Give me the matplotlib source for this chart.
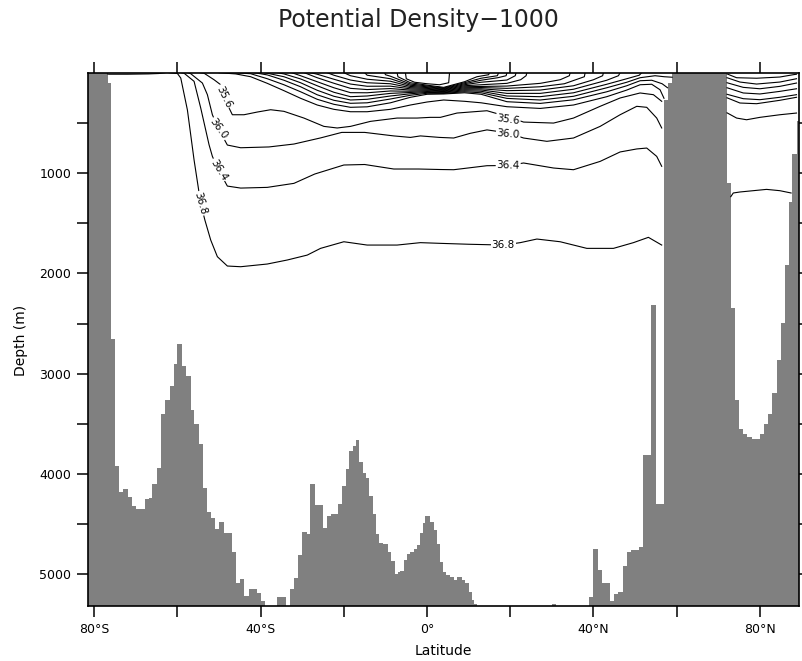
import matplotlib
matplotlib.use("Agg")
import matplotlib.pyplot as plt

# bottom topography: cell edges (deg lat) and bottom depth (m) of each cell
topo_edges = [-81.5, -76.8, -76.0, -75.0, -74.0, -73.0, -71.9, -70.9, -69.9, -67.9, -66.9,
              -66.0, -65.0, -64.0, -62.9, -61.9, -60.9, -60.0, -58.9, -57.9, -56.8,
              -55.9, -54.9, -53.9, -52.8, -51.9, -50.9, -49.9, -48.9, -46.8, -45.9,
              -44.9, -43.9, -42.9, -40.9, -39.9, -39.0, -36.0, -33.8, -33.0, -32.1,
              -31.0, -30.0, -28.9, -28.1, -26.9, -24.9, -24.1, -23.1, -21.3, -20.4,
              -19.5, -18.7, -17.9, -17.1, -16.3, -15.5, -14.7, -13.9, -13.1, -12.3,
              -11.5, -10.7, -9.4, -8.6, -7.8, -7.0, -6.4, -5.6, -4.8, -4.0,
              -3.2, -2.4, -1.6, -1.0, -0.4, 0.8, 1.6, 2.4, 3.0, 3.8,
              4.6, 5.4, 6.4, 7.2, 8.4, 9.2, 10.0, 10.8, 11.4, 12.0,
              30.0, 31.0, 39.0, 40.0, 41.0, 42.0, 44.0, 45.0, 46.0, 47.0,
              48.0, 49.0, 51.0, 51.9, 53.9, 55.0, 57.0, 57.8, 58.9, 72.1,
              73.0, 74.0, 75.0, 76.0, 77.0, 78.0, 80.0, 81.0, 82.0, 83.0,
              84.0, 85.0, 86.0, 86.9, 87.8, 88.8, 89.4]
topo_depth = [0, 106, 2658, 3922, 4178, 4151, 4231, 4317, 4350, 4247,
              4241, 4101, 3942, 3405, 3265, 3123, 2900, 2708, 2927, 3027,
              3365, 3501, 3700, 4141, 4377, 4436, 4546, 4479, 4589, 4778,
              5083, 5046, 5216, 5146, 5183, 5266, 5400, 5226, 5400, 5146,
              5036, 4804, 4579, 4599, 4101, 4310, 4536, 4420, 4400, 4300,
              4121, 3952, 3770, 3720, 3663, 3879, 3995, 4045, 4217, 4403,
              4602, 4685, 4702, 4778, 4868, 5000, 4973, 4964, 4861, 4801,
              4781, 4748, 4712, 4592, 4493, 4420, 4476, 4560, 4700, 4874,
              4974, 5007, 5023, 5056, 5030, 5056, 5090, 5173, 5256, 5299,
              5400, 5295, 5400, 5222, 4745, 4957, 5083, 5262, 5199, 5173,
              4914, 4775, 4758, 4731, 3809, 2313, 4297, 269, 103, 0,
              1100, 2347, 3265, 3551, 3604, 3627, 3654, 3597, 3504, 3398,
              3189, 2867, 2496, 1914, 1289, 810, 485]

# labelled contours (lat, depth)
lat_356 = [-54.5, -53.6, -51.2, -49.6, -48.9, -46.8, -44.0, -40.8, -37.6, -34.4, -29.6, -24.8,
           -21.6, -18.4, -13.6, -7.2, -2.4, 0.8, 3.2, 7.2, 14.4, 19.5, 23.2, 30.4, 35.2,
           41.6, 46.4, 51.2, 54.4, 56.4]
dep_356 = [0, 5, 70, 120, 240, 419, 419, 392, 369, 385, 452, 535, 551, 535, 485, 452, 452,
           445, 445, 402, 379, 440, 492, 502, 452, 335, 252, 202, 219, 285]
lat_360 = [-57.5, -56.8, -54.0, -52.8, -51.6, -50.1, -48.0, -44.8, -38.0, -32.0, -25.6, -20.5,
           -15.0, -8.0, -4.0, -1.6, 3.0, 6.4, 10.4, 14.4, 19.5, 23.2, 28.8, 35.2, 41.6, 46.4,
           50.4, 52.8, 55.2, 56.4]
dep_360 = [0, 10, 103, 219, 419, 561, 721, 748, 740, 711, 650, 595, 595, 630, 645, 630, 645,
           651, 604, 570, 600, 651, 684, 651, 535, 419, 335, 345, 452, 551]
lat_364 = [-59.0, -58.4, -56.0, -54.4, -52.4, -51.6, -50.1, -48.0, -44.8, -38.4, -32.0, -27.0,
           -20.0, -15.0, -8.0, -2.0, 3.2, 6.4, 14.4, 19.5, 23.2, 30.4, 35.2, 41.6, 46.4, 50.4,
           52.8, 55.2, 56.4]
dep_364 = [0, 5, 86, 352, 718, 834, 970, 1130, 1150, 1143, 1103, 1010, 920, 915, 960, 960,
           965, 967, 927, 925, 900, 950, 967, 884, 790, 760, 751, 834, 933]
lat_368 = [-62.0, -60.0, -59.2, -57.6, -56.0, -54.4, -53.4, -52.0, -50.4, -48.0, -44.8, -38.4,
           -33.6, -28.8, -25.6, -20.0, -14.4, -7.2, -1.6, 3.2, 10.0, 18.3, 22.4, 26.4, 32.0,
           38.4, 44.8, 49.6, 53.2, 56.4]
dep_368 = [0, 8, 53, 372, 870, 1304, 1469, 1668, 1834, 1927, 1934, 1907, 1867, 1818, 1751,
           1685, 1718, 1718, 1694, 1701, 1710, 1718, 1694, 1658, 1685, 1751, 1751, 1694, 1641,
           1718]

# unlabelled upper-ocean contours, densest first
upper_lat = [
    [-50, -46, -42.4, -38.4, -34.4, -30.4, -26.4, -22.4, -18.4, -14.4, -8.8, -4, 0, 4, 9, 13,
     19.2, 27.2, 35.2, 43.2, 48, 51.2, 54, 56, 56.95],
    [-46, -42.4, -38.4, -34.4, -30.4, -26.4, -22.4, -18.4, -14.4, -8.8, -4, 0, 4, 9, 13, 19.2,
     27.2, 35.2, 43.2, 48, 51.2, 54, 56.5, 57.8],
    [-41.5, -38.4, -34.4, -30.4, -26.4, -22.4, -18.4, -14.4, -8.8, -4, 0, 4, 9, 13, 19.2, 27.2,
     35.2, 43.2, 48, 51.2, 54.8, 57, 58.9],
    [-39, -34.4, -30.4, -26.4, -22.4, -18.4, -14.4, -8.8, -4, 0, 4, 9, 13, 19.2, 27.2, 35.2,
     43.2, 48, 51, 51.6],
    [-36, -34.4, -30.4, -26.4, -22.4, -18.4, -14.4, -8.8, -4, 0, 4, 9, 13, 19.2, 27.2, 35.2,
     43.2, 46, 46.4],
    [-32.5, -30.4, -26.4, -22.4, -18.4, -14.4, -8.8, -4, 0, 4, 9, 13, 19.2, 27.2, 35.2, 40,
     42.2, 42.4],
    [-29.5, -26.4, -22.4, -18.4, -14.4, -8.8, -4, 0, 4, 9, 13, 19.2, 27.2, 33, 37.8, 38.0],
    [-28, -26.4, -22.4, -18.4, -14.4, -8.8, -4, 0, 4, 9, 13, 19.2, 27.2, 32, 34.2, 34.4],
    [-24, -22.4, -18.4, -14.4, -8.8, -4, 0, 4, 9, 13, 19.2, 22.5, 23.8, 24.0],
    [-20, -18.4, -14.4, -8.8, -4, 0, 4, 9, 13, 19.2, 21.2, 21.4],
    [-15, -14.4, -8.8, -4, 0, 4, 9, 13, 17, 19.0, 19.2],
    [-10.2, -10, -8.8, -4, 0, 4, 9, 13, 16.9, 17.2],
    [-7.2, -7.0, -4, 0, 4, 9, 12, 14.8, 15.0],
    [-5.2, -5.0, -3, 0, 3, 5.2, 5.4],
    [-76.8, -76.5, -72, -67, -64.5, -63],
]
upper_dep = [
    [0, 12, 40, 106, 179, 255, 322, 365, 389, 389, 365, 322, 292, 272, 285, 300, 339, 356, 322,
     239, 173, 120, 115, 170, 255],
    [0, 10, 60, 120, 190, 265, 315, 345, 340, 300, 245, 215, 212, 200, 215, 289, 306, 270, 190,
     130, 80, 75, 110, 150],
    [0, 22, 75, 140, 220, 275, 305, 300, 262, 225, 205, 206, 190, 200, 256, 272, 235, 150, 95,
     50, 30, 40, 45],
    [0, 40, 100, 175, 235, 272, 265, 232, 210, 196, 200, 180, 185, 232, 239, 200, 115, 60, 25, 0],
    [0, 12, 62, 130, 195, 239, 232, 206, 197, 188, 194, 170, 172, 206, 206, 165, 75, 30, 0],
    [0, 30, 90, 150, 199, 200, 182, 185, 180, 188, 160, 160, 179, 173, 130, 70, 30, 0],
    [0, 50, 105, 156, 168, 158, 173, 172, 182, 150, 148, 156, 140, 110, 40, 0],
    [0, 15, 65, 113, 135, 134, 161, 164, 176, 140, 137, 133, 106, 70, 30, 0],
    [0, 25, 73, 100, 110, 149, 156, 170, 130, 120, 106, 70, 30, 0],
    [0, 30, 65, 85, 137, 148, 164, 120, 95, 73, 30, 0],
    [0, 25, 60, 125, 140, 158, 110, 75, 50, 30, 0],
    [0, 20, 35, 113, 132, 152, 100, 55, 30, 0],
    [0, 40, 100, 124, 146, 90, 40, 20, 0],
    [0, 60, 95, 110, 120, 100, 0],
    [12, 15, 15, 12, 8, 0],
]

# Arctic basin contours
arctic_lat = [
    [72.1, 74.4, 79.2, 84.8, 88.0, 88.8],
    [72.1, 75.2, 79.2, 84.8, 88.8],
    [72.1, 76.0, 80.0, 84.8, 88.8],
    [72.1, 76.0, 80.0, 84.8, 88.8],
    [72.1, 76.0, 80.0, 84.8, 88.8],
    [72.1, 75.2, 79.2, 84.8, 88.8],
    [72.1, 74.4, 76.8, 80.0, 84.8, 88.8],
    [73.0, 73.6, 75.2, 78.4, 81.6, 84.8, 87.5],
]
arctic_dep = [
    [12, 50, 55, 43, 20, 15],
    [50, 93, 113, 93, 60],
    [100, 146, 160, 136, 103],
    [150, 202, 212, 186, 160],
    [215, 259, 269, 245, 219],
    [250, 302, 309, 275, 245],
    [400, 452, 469, 445, 419, 402],
    [1236, 1199, 1189, 1176, 1163, 1176, 1199],
]

# contour labels: text, lat, depth, rotation
label_txt = ["35.6", "36.0", "36.4", "36.8", "35.6", "36.0", "36.4", "36.8"]
label_lat = [-48.9, -50.1, -50.1, -54.5, 19.5, 19.5, 19.5, 18.3]
label_dep = [240, 561, 970, 1304, 466, 612, 925, 1718]
label_rot = [-64, -54, -58, -74, -8, -5, -2, 0]

fig = plt.figure(figsize=(8.02, 6.61), dpi=100)
ax = fig.add_axes([0.1097, 0.0832, 0.8862, 0.8068])

ax.stairs(topo_depth, topo_edges, baseline=6000, fill=True, color="#808080", zorder=1)

for lat, dep in [(lat_356, dep_356), (lat_360, dep_360), (lat_364, dep_364), (lat_368, dep_368)]:
    ax.plot(lat, dep, color="black", lw=0.8, zorder=2)
for lat, dep in zip(upper_lat, upper_dep):
    ax.plot(lat, dep, color="black", lw=0.8, zorder=2)
for lat, dep in zip(arctic_lat, arctic_dep):
    ax.plot(lat, dep, color="black", lw=0.8, zorder=2)

for t, x, y, r in zip(label_txt, label_lat, label_dep, label_rot):
    ax.text(x, y, t, fontsize=7.5, rotation=r, ha="center", va="center",
            rotation_mode="anchor", zorder=4,
            bbox=dict(facecolor="white", edgecolor="none", pad=0.6))

ax.set_xlim(-81.5, 89.33)
ax.set_ylim(5316, 0)

xt = [-80, -60, -40, -20, 0, 20, 40, 60, 80]
xl = ["80°S", "", "40°S", "", "0°", "", "40°N", "", "80°N"]
ax.set_xticks(xt)
ax.set_xticklabels(xl)
yt = [500, 1000, 1500, 2000, 2500, 3000, 3500, 4000, 4500, 5000]
yl = ["", "1000", "", "2000", "", "3000", "", "4000", "", "5000"]
ax.set_yticks(yt)
ax.set_yticklabels(yl)
ax.tick_params(direction="out", length=8, width=1.1, labelsize=9, top=True, right=True,
               pad=4)
for s in ax.spines.values():
    s.set_linewidth(1.2)
    s.set_zorder(5)

fig.text(443 / 802, 1 - 651 / 661, "Latitude", fontsize=10, ha="center", va="center")
fig.text(21 / 802, 1 - 340 / 661, "Depth (m)", fontsize=10, ha="center", va="center",
         rotation=90)
fig.text(418 / 802, 1 - 20 / 661, "Potential Density\u22121000", fontsize=17,
         ha="center", va="center", color="#222222")

fig.savefig("out.png", dpi=100)
